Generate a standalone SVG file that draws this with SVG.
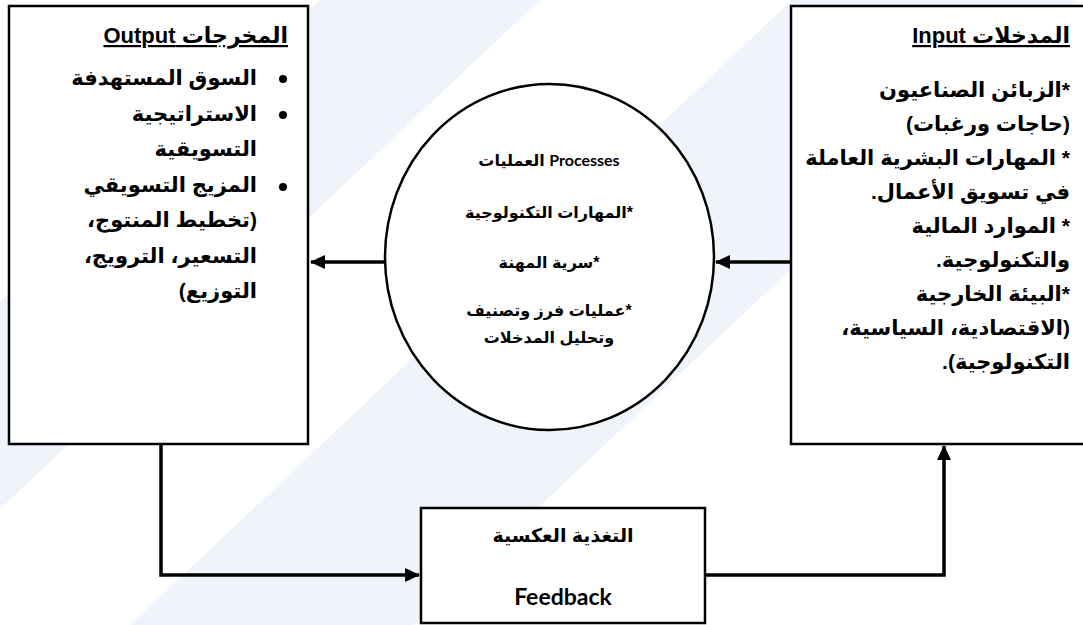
<svg xmlns="http://www.w3.org/2000/svg" width="1083" height="625" viewBox="0 0 1083 625">
<style>
.box{fill:#fff;stroke:#000;stroke-width:2.5}
.conn{fill:none;stroke:#000;stroke-width:3.5}
.ar{font-family:"Liberation Sans","DejaVu Sans",sans-serif;font-weight:bold;fill:#000}
.t21{font-size:21px}
.t22{font-size:22px}
.t16{font-size:16px}
.lat{font-family:Lato,"Liberation Sans",sans-serif;font-weight:bold;fill:#000}
.bg{fill:#eef4fa}
</style>
<defs>
<marker id="ah" markerUnits="userSpaceOnUse" markerWidth="16" markerHeight="14" refX="14" refY="7" orient="auto">
<path d="M0,0 L15,7 L0,14 z" fill="#000"/>
</marker>
</defs>
<rect x="0" y="0" width="1083" height="625" fill="#fff"/>
<polygon class="bg" points="320,0 540,0 0,509 0,302"/>
<polygon class="bg" points="792,0 1076,0 414,625 130,625"/>

<g id="connectors">
<line class="conn" x1="385" y1="262" x2="311" y2="262" marker-end="url(#ah)"/>
<line class="conn" x1="791" y1="262" x2="716" y2="262" marker-end="url(#ah)"/>
<polyline class="conn" points="161,444 161,575 419,575" marker-end="url(#ah)"/>
<polyline class="conn" points="705,575 944,575 944,446" marker-end="url(#ah)"/>
</g>

<g id="outputs">
<rect class="box" x="9" y="6" width="299" height="438"/>
<text class="ar t22" x="288" y="43" direction="rtl" text-anchor="start" text-decoration="underline">المخرجات Output</text>
<circle cx="283" cy="79" r="4"/>
<circle cx="283" cy="115" r="4"/>
<circle cx="283" cy="187" r="4"/>
<g class="ar t21" text-anchor="start">
<text x="257" y="85" direction="rtl">السوق المستهدفة</text>
<text x="257" y="121" direction="rtl">الاستراتيجية</text>
<text x="257" y="156" direction="rtl">التسويقية</text>
<text x="257" y="192" direction="rtl">المزيج التسويقي</text>
<text x="257" y="227" direction="rtl">(تخطيط المنتوج،</text>
<text x="257" y="263" direction="rtl">التسعير، الترويج،</text>
<text x="257" y="298" direction="rtl">التوزيع)</text>
</g>
</g>

<g id="inputs">
<rect class="box" x="791" y="6" width="300" height="438"/>
<text class="ar t22" x="1070" y="43" direction="rtl" text-anchor="start" text-decoration="underline">المدخلات Input</text>
<g class="ar t21" text-anchor="start">
<text x="1070" y="97" direction="rtl">*الزبائن الصناعيون</text>
<text x="1070" y="131" direction="rtl">(حاجات ورغبات)</text>
<text x="1070" y="165" direction="rtl">* المهارات البشرية العاملة</text>
<text x="1070" y="199" direction="rtl">في تسويق الأعمال.</text>
<text x="1070" y="233" direction="rtl">* الموارد المالية</text>
<text x="1070" y="267" direction="rtl">والتكنولوجية.</text>
<text x="1070" y="301" direction="rtl">*البيئة الخارجية</text>
<text x="1070" y="335" direction="rtl">(الاقتصادية، السياسية،</text>
<text x="1070" y="369" direction="rtl">التكنولوجية).</text>
</g>
</g>

<g id="processes">
<ellipse class="box" cx="549.5" cy="257" rx="164.5" ry="173"/>
<g class="ar t16" text-anchor="middle">
<text x="549" y="166" direction="rtl"><tspan class="lat">Processes</tspan> العمليات</text>
<text x="549" y="218" direction="rtl">*المهارات التكنولوجية</text>
<text x="549" y="268" direction="rtl">*سرية المهنة</text>
<text x="549" y="316" direction="rtl">*عمليات فرز وتصنيف</text>
<text x="549" y="343" direction="rtl">وتحليل المدخلات</text>
</g>
</g>

<g id="feedback">
<rect class="box" x="421" y="508" width="284" height="115"/>
<text class="ar" x="563" y="542" font-size="19" direction="rtl" text-anchor="middle">التغذية العكسية</text>
<text class="lat" x="563" y="605" font-size="23" text-anchor="middle">Feedback</text>
</g>
</svg>
